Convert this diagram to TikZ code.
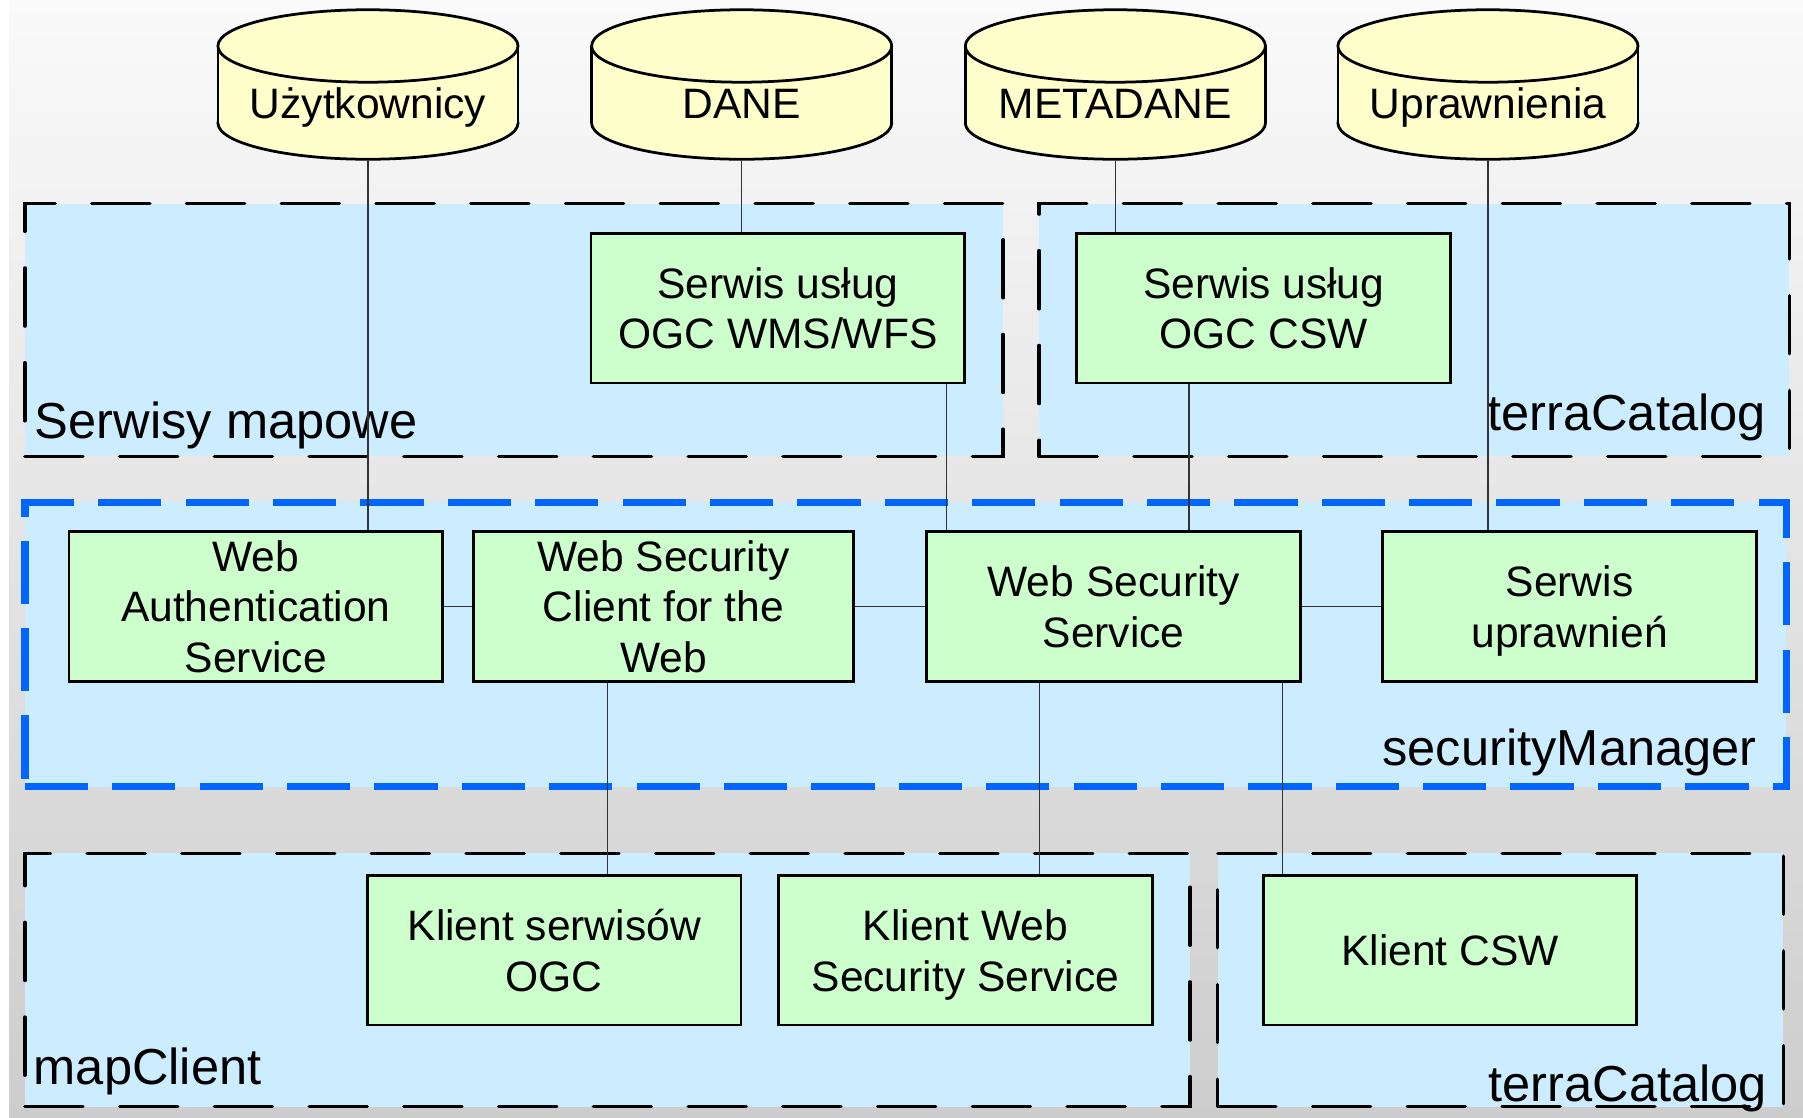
\documentclass[tikz,border=0pt]{standalone}
\usepackage{fontspec}
\setmainfont{Liberation Sans}
\definecolor{contblue}{HTML}{CCECFF}
\definecolor{boxgreen}{HTML}{CCFFCC}
\definecolor{cylcol}{HTML}{FFFFCC}
\definecolor{secblue}{HTML}{0066FF}
\definecolor{bgtop}{HTML}{FAFAFA}
\definecolor{bgmid}{HTML}{E4E4E4}
\definecolor{bgbot}{HTML}{CDCDCD}
\newcommand\mycyl[3]{%
  \filldraw[cylshape] (#1,107) ellipse [x radius=130.5, y radius=31.5];
  \fill[cylcol] (#1-130.5,40) rectangle (#1+130.5,107);
  \draw[cylshape] (#1-130.5,40) -- (#1-130.5,107) (#1+130.5,40) -- (#1+130.5,107);
  \filldraw[cylshape] (#1,40) ellipse [x radius=130.5, y radius=31.5];
  \node[cylbox] (#2) at (#1,73.5) {};
  \node[cyltext] (#2t) at (#1,103) {#3};
}
\begin{document}
\begin{tikzpicture}[x=0.5pt,y=-0.5pt,
  cont/.style={rectangle, fill=contblue, draw=black, line width=1.45pt,
    dash pattern=on 25.3pt off 15.9pt, line cap=round, inner sep=0pt},
  seccont/.style={rectangle, fill=contblue, draw=secblue, line width=3.2pt,
    dash pattern=on 27.5pt off 10.5pt, inner sep=0pt},
  gbox/.style={rectangle, draw=black, fill=boxgreen, line width=1.2pt,
    minimum width=162.5pt, minimum height=65pt, inner sep=0pt, align=center,
    text depth=0pt, font=\fontsize{18.5}{22}\selectfont},
  cylshape/.style={fill=cylcol, draw=black, line width=1.2pt},
  cylbox/.style={rectangle, minimum width=130.5pt, minimum height=65pt, inner sep=0pt},
  cyltext/.style={anchor=base, inner sep=0pt, font=\fontsize{18.5}{22}\selectfont},
  glabel/.style={inner sep=0pt, font=\fontsize{22}{26}\selectfont},
  conn/.style={draw=black!80, line width=0.55pt}
]
\useasboundingbox (0,0) rectangle (1568,972);
\fill[white] (0,0) rectangle (1568,972);
\shade[top color=bgtop, middle color=bgmid, bottom color=bgbot] (8,0) rectangle (1568,972);

% containers
\node[cont, minimum width=425.4pt, minimum height=110pt] (gSerw) at (447,287) {};
\node[cont, minimum width=326.15pt, minimum height=110pt] (gTerra1) at (1229.85,287) {};
\node[seccont, minimum width=765.95pt, minimum height=123.5pt] (gSec) at (787.55,560.5) {};
\node[cont, minimum width=506.7pt, minimum height=110.15pt] (gMap) at (528.3,852.15) {};
\node[cont, minimum width=246pt, minimum height=110.15pt] (gTerra2) at (1305,852.15) {};

% container labels
\node[glabel, anchor=base west] (lSerw) at (30,381) {Serwisy mapowe};
\node[glabel, anchor=base east] (lTerra1) at (1536,374) {terraCatalog};
\node[glabel, anchor=base east] (lSec) at (1528,666) {securityManager};
\node[glabel, anchor=base west] (lMap) at (29,943.5) {mapClient};
\node[glabel, anchor=base east] (lTerra2) at (1537,958) {terraCatalog};

% cylinders
\mycyl{320}{cU}{Użytkownicy}
\mycyl{645}{cD}{DANE}
\mycyl{970}{cM}{METADANE}
\mycyl{1294}{cP}{Uprawnienia}

% boxes
\node[gbox] (wms) at (676.5,268) {Serwis usług\\OGC WMS/WFS};
\node[gbox] (csw) at (1099,268) {Serwis usług\\OGC CSW};
\node[gbox] (wauth) at (222.5,527.5) {Web\\Authentication\\Service};
\node[gbox, minimum width=165pt] (wsc) at (577,527.5) {Web Security\\Client for the\\Web};
\node[gbox] (wss) at (968.5,527.5) {Web Security\\Service};
\node[gbox] (uprawn) at (1365,527.5) {Serwis\\uprawnień};
\node[gbox] (kogc) at (482,826.5) {Klient serwisów\\OGC};
\node[gbox] (kwss) at (839.5,826.5) {Klient Web\\Security Service};
\node[gbox] (kcsw) at (1261,826.5) {Klient CSW};

% connector x positions
\coordinate (a823) at (823,0);
\coordinate (a1034) at (1034,0);
\coordinate (a528) at (528.5,0);
\coordinate (a904) at (904,0);
\coordinate (a1115) at (1115.5,0);

% connectors
\draw[conn] (cU.south) -- (cU.south |- wauth.north);
\draw[conn] (cD.south) -- (cD.south |- wms.north);
\draw[conn] (cM.south) -- (cM.south |- csw.north);
\draw[conn] (cP.south) -- (cP.south |- uprawn.north);
\draw[conn] (wms.south -| a823) -- (wss.north -| a823);
\draw[conn] (csw.south -| a1034) -- (wss.north -| a1034);
\draw[conn] (wauth.east) -- (wsc.west);
\draw[conn] (wsc.east) -- (wss.west);
\draw[conn] (wss.east) -- (uprawn.west);
\draw[conn] (wsc.south -| a528) -- (kogc.north -| a528);
\draw[conn] (wss.south -| a904) -- (kwss.north -| a904);
\draw[conn] (wss.south -| a1115) -- (kcsw.north -| a1115);
\end{tikzpicture}
\end{document}
